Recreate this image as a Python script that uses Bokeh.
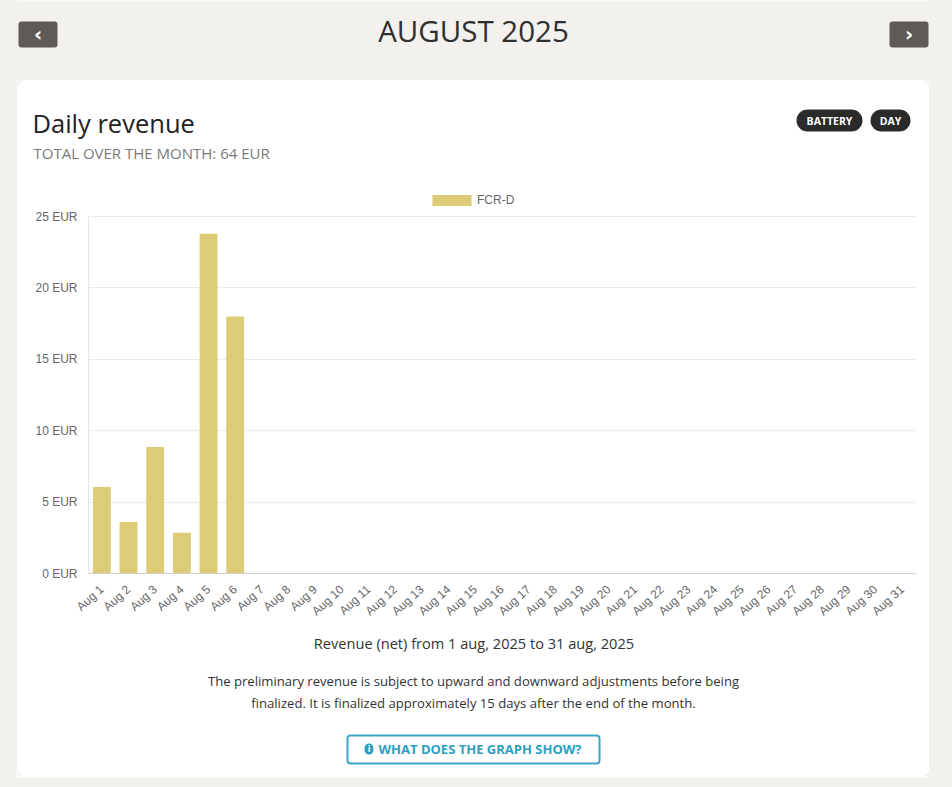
from bokeh.plotting import figure
from bokeh.layouts import column, row
from bokeh.models import (Label, BoxAnnotation, Legend, LegendItem, FixedTicker,
                          PrintfTickFormatter, FactorRange, Range1d)
from bokeh.embed import file_html
from bokeh.resources import INLINE

# ---------------- data ----------------
days = [f"Aug {d}" for d in range(1, 32)]
fcr_d = [6.05, 3.6, 8.85, 2.85, 23.8, 18.0] + [0] * 25
series_name = "FCR-D"
y_ticks = [0, 5, 10, 15, 20, 25]
header_title = "AUGUST 2025"
card_title = "Daily revenue"
card_subtitle = "TOTAL OVER THE MONTH: 64 EUR"
pills = ["BATTERY", "DAY"]
caption = "Revenue (net) from 1 aug, 2025 to 31 aug, 2025"
note_lines = ["The preliminary revenue is subject to upward and downward adjustments before being",
              "finalized. It is finalized approximately 15 days after the end of the month."]
button_text = "WHAT DOES THE GRAPH SHOW?"

# ---------------- style / geometry (page pixels) ----------------
PAGE_W, PAGE_H = 952, 787
CARD_L, CARD_R, CARD_T, CARD_B = 17, 929, 80, 776
CHART_T, CHART_B = 170, 630     # chart strip
PLOT_L, PLOT_R = 88, 915        # plot area edges
AX_TOP, AX_BOT = 216, 573       # y of top tick and of baseline
FRAME_TOP = 189                 # frame extends above top tick to hold the legend
RAD = 9
BG = "#f3f1ed"
BAR = "#dccb77"
SANS = "Liberation Sans"
UI = "Open Sans"
TEAL = "#2b9fc3"
CW = CARD_R - CARD_L


def deco_fig(x0, y0, w, h, fill=BG):
    """Figure whose frame covers the whole canvas, in page pixel coordinates."""
    f = figure(width=w, height=h, output_backend="svg", toolbar_location=None,
               x_range=Range1d(x0, x0 + w), y_range=Range1d(y0 + h, y0),
               min_border=0, min_border_left=0, min_border_right=0,
               min_border_top=0, min_border_bottom=0)
    f.axis.visible = False
    f.grid.visible = False
    f.outline_line_color = None
    f.background_fill_color = fill
    f.border_fill_color = fill
    return f


def box(f, l, t, r, b, color, radius=0, line=None, lw=1, level="annotation"):
    f.add_layout(BoxAnnotation(left=l, right=r, top=t, bottom=b,
                               fill_color=color if color else "white",
                               fill_alpha=1 if color else 0,
                               line_color=line, line_width=lw, line_alpha=1 if line else 0,
                               border_radius=radius, level=level))


def label(f, x, y, text, size, color, font=UI, align="left", style="normal", **kw):
    f.add_layout(Label(x=x, y=y, text=text, text_font=font, text_font_size=f"{size}px",
                       text_color=color, text_align=align, text_baseline="middle",
                       text_font_style=style, **kw))


def strips(y0, h):
    return (deco_fig(0, y0, CARD_L, h), deco_fig(CARD_R, y0, PAGE_W - CARD_R, h))


# ---------------- page header ----------------
head = deco_fig(0, 0, PAGE_W, CARD_T)
box(head, 18, 21, 57, 47, "#5e5a55", radius=3)
box(head, 889, 21, 928, 47, "#5e5a55", radius=3)
label(head, 37.5, 33, "\u2039", 20, "white", font="DejaVu Sans", align="center", style="bold")
label(head, 908.5, 33, "\u203a", 20, "white", font="DejaVu Sans", align="center", style="bold")
label(head, 473, 30, header_title, 29.5, "#2f2f2f", align="center")

# ---------------- card top ----------------
ctop = deco_fig(CARD_L, CARD_T, CW, CHART_T - CARD_T, fill="white")
box(ctop, CARD_L, CARD_T, CARD_L + RAD, CARD_T + RAD, BG, level="image")
box(ctop, CARD_R - RAD, CARD_T, CARD_R, CARD_T + RAD, BG, level="image")
box(ctop, CARD_L, CARD_T, CARD_R, CARD_T + 200, "white", radius=RAD, level="image")
label(ctop, 32, 122, card_title, 25.5, "#222222")
label(ctop, 33, 152, card_subtitle, 15, "#7a7a7a")
box(ctop, 796, 109, 862, 131, "#2b2b2b", radius=11)
box(ctop, 870, 109, 910, 131, "#2b2b2b", radius=11)
label(ctop, 829, 120, pills[0], 10.5, "white", align="center", style="bold")
label(ctop, 890, 120, pills[1], 10.5, "white", align="center", style="bold")

# ---------------- chart ----------------
px_per_eur = (AX_BOT - AX_TOP) / y_ticks[-1]
p = figure(width=CW, height=CHART_B - CHART_T, output_backend="svg", toolbar_location=None,
           x_range=FactorRange(*days, range_padding=0),
           y_range=Range1d(0, (AX_BOT - FRAME_TOP) / px_per_eur),
           min_border_left=PLOT_L - CARD_L, min_border_right=CARD_R - PLOT_R,
           min_border_top=FRAME_TOP - CHART_T, min_border_bottom=CHART_B - AX_BOT)
p.border_fill_color = "white"
p.background_fill_color = "white"
p.outline_line_color = None

r = p.vbar(x=days, top=fcr_d, width=0.67, fill_color=BAR, line_color=None)

legend = Legend(items=[LegendItem(label=series_name, renderers=[r])],
                location=(427 - PLOT_L, AX_BOT - 207), orientation="horizontal",
                glyph_width=49, glyph_height=14, label_standoff=1, padding=0, margin=0,
                border_line_color=None, background_fill_alpha=0,
                label_text_font=SANS, label_text_font_size="12px", label_text_color="#666666")
p.add_layout(legend, "center")

p.yaxis.ticker = FixedTicker(ticks=y_ticks)
p.yaxis.bounds = (y_ticks[0], y_ticks[-1])
p.yaxis.formatter = PrintfTickFormatter(format="%d EUR")
p.yaxis.axis_line_color = "#e6e6e6"
p.xaxis.axis_line_color = "#d0d0d0"
for ax in (p.xaxis, p.yaxis):
    ax.major_tick_line_color = None
    ax.minor_tick_line_color = None
    ax.major_tick_out = 0
    ax.major_tick_in = 0
    ax.major_label_text_font = SANS
    ax.major_label_text_font_size = "12px"
    ax.major_label_text_color = "#666666"
p.yaxis.major_label_standoff = 11
p.xaxis.major_label_orientation = 0.74
p.xaxis.major_label_standoff = 14
p.xgrid.grid_line_color = None
p.ygrid.ticker = FixedTicker(ticks=y_ticks)
p.ygrid.grid_line_color = "#ebebeb"

# ---------------- card bottom ----------------
cbot = deco_fig(CARD_L, CHART_B, CW, CARD_B - CHART_B, fill="white")
box(cbot, CARD_L, CARD_B - RAD, CARD_L + RAD, CARD_B, BG, level="image")
box(cbot, CARD_R - RAD, CARD_B - RAD, CARD_R, CARD_B, BG, level="image")
box(cbot, CARD_L, CHART_B - 200, CARD_R, CARD_B, "white", radius=RAD, level="image")
label(cbot, 473.5, 642, caption, 14.6, "#333333", align="center")
label(cbot, 473, 680, note_lines[0], 13.1, "#333333", align="center")
label(cbot, 473, 702, note_lines[1], 13.1, "#333333", align="center")
box(cbot, 347, 735, 599, 763, None, radius=3, line="#3ba6c6", lw=2)
cbot.add_layout(Label(x=368.5, y=748.5, text="i", text_font="DejaVu Sans", text_font_size="8px",
                      text_font_style="bold", text_color="white", text_align="center",
                      text_baseline="middle", background_fill_color=TEAL,
                      border_radius=5, padding=(3, 1)))
label(cbot, 479.5, 748.5, button_text, 13, TEAL, align="center", style="bold")

# ---------------- page footer ----------------
foot = deco_fig(0, CARD_B, PAGE_W, PAGE_H - CARD_B)

sl1, sr1 = strips(CARD_T, CHART_T - CARD_T)
sl2, sr2 = strips(CHART_T, CHART_B - CHART_T)
sl3, sr3 = strips(CHART_B, CARD_B - CHART_B)
page_bg = (f"linear-gradient(to right, {BG} 0px, {BG} {CARD_L}px, white {CARD_L}px, "
           f"white {CARD_R}px, {BG} {CARD_R}px, {BG} {PAGE_W}px)")
rows = [row(a, b, c, spacing=0, styles={"background": page_bg})
        for a, b, c in ((sl1, ctop, sr1), (sl2, p, sr2), (sl3, cbot, sr3))]
layout = column(head, *rows, foot, spacing=0, styles={"background": page_bg})
open("out.html", "w").write(file_html(layout, INLINE))
